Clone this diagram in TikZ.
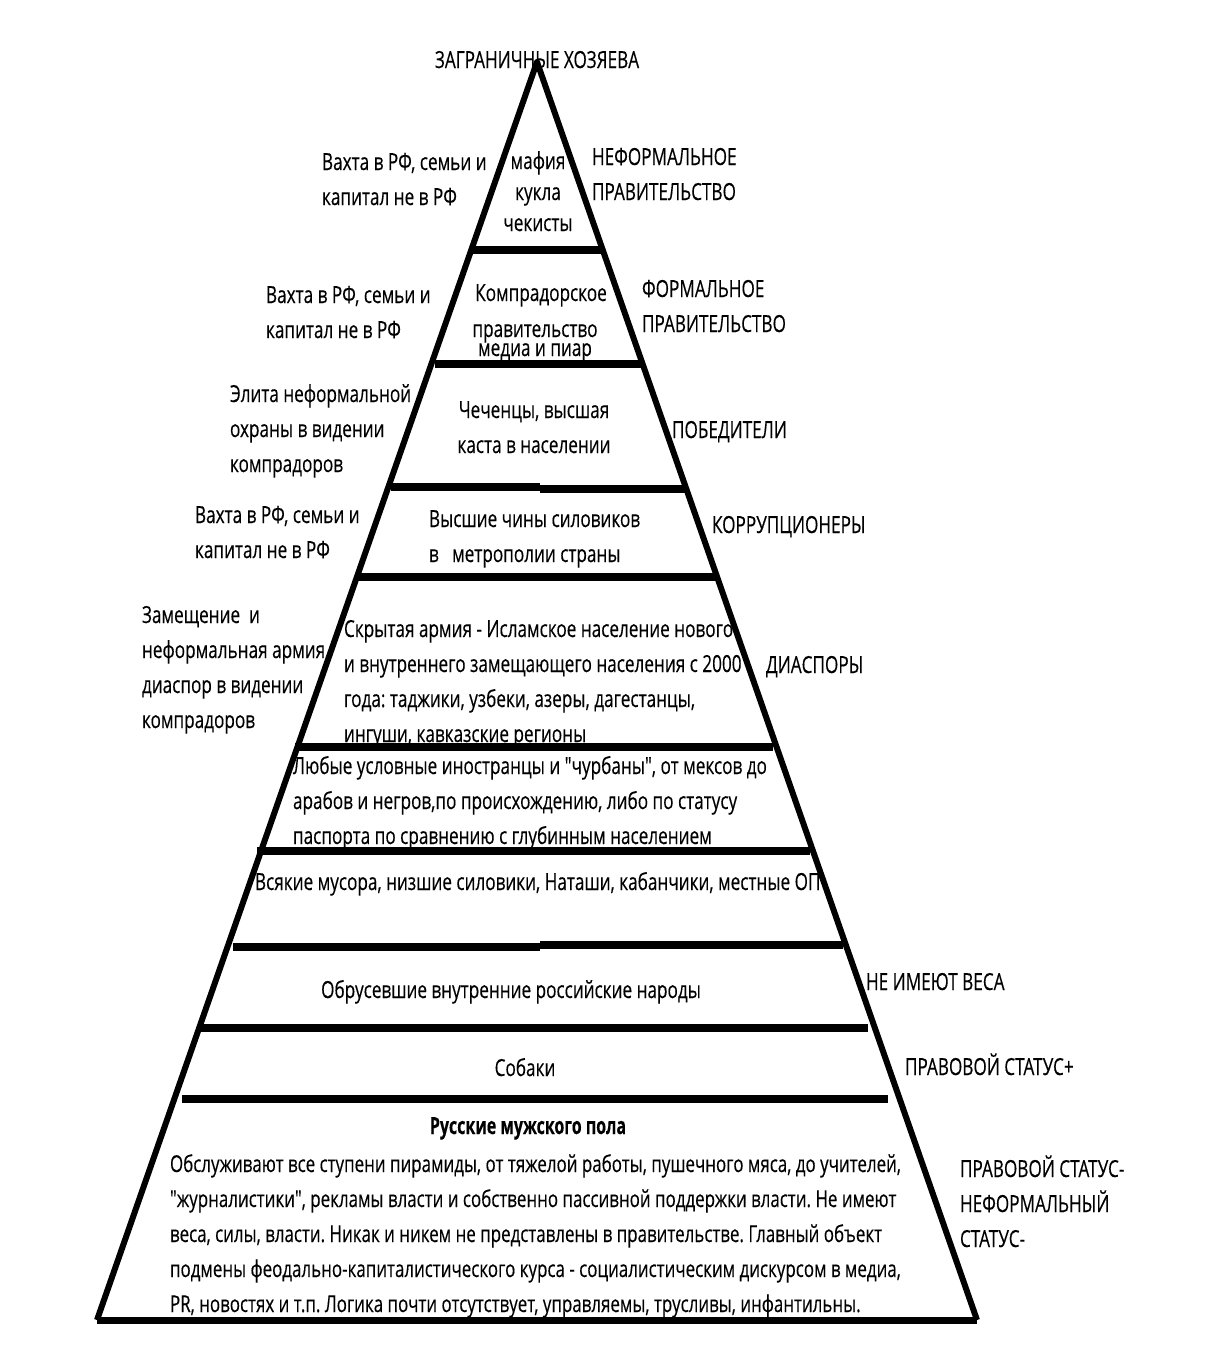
\documentclass[tikz,border=0pt]{standalone}
\usepackage{fontspec}
\setmainfont{Open Sans}[FakeStretch=0.73, FakeBold=0.3, Ligatures=TeXOff, BoldFeatures={FakeStretch=0.68}]
\frenchspacing
\newcommand\lft[1]{\vtop{\baselineskip=35pt\halign{##\hfil\cr#1\crcr}}}
\newcommand\ctr[1]{\vtop{\baselineskip=35pt\halign{\hfil##\hfil\cr#1\crcr}}}
\tikzset{
  lbl/.style={inner sep=0pt, outer sep=0pt, anchor=base west, font=\fontsize{23.5}{35}\selectfont},
  clbl/.style={lbl, anchor=base},
  sideline/.style={line width=6pt, line join=round},
  layer/.style={line width=8pt},
}
\begin{document}
\begin{tikzpicture}[x=1pt,y=-1pt]
\useasboundingbox (0,0) rectangle (1227,1346);
\coordinate (apex) at (537,62);
\coordinate (bl) at (97,1320);
\coordinate (br) at (977,1320);

% texts
\node[clbl] (top) at (537,68) {ЗАГРАНИЧНЫЕ ХОЗЯЕВА};
\node[lbl] (vahta1) at (322,170) {\lft{Вахта в РФ, семьи и\cr капитал не в РФ}};
\node[clbl] (mafia) at (538,169) {\vtop{\baselineskip=31pt\halign{\hfil#\hfil\cr мафия\cr кукла\cr чекисты\crcr}}};
\node[lbl] (neform) at (592,165) {\lft{НЕФОРМАЛЬНОЕ\cr ПРАВИТЕЛЬСТВО}};
\node[lbl] (vahta2) at (266,303) {\lft{Вахта в РФ, семьи и\cr капитал не в РФ}};
\node[clbl] (kompr1) at (541,301) {Компрадорское};
\node[clbl] (kompr2) at (535,337) {правительство};
\node[clbl] (kompr3) at (535,356) {медиа и пиар};
\node[lbl] (formal) at (642,297) {\lft{ФОРМАЛЬНОЕ\cr ПРАВИТЕЛЬСТВО}};
\node[lbl] (elite) at (230,402) {\lft{Элита неформальной\cr охраны в видении\cr компрадоров}};
\node[clbl] (chech) at (534,418) {\ctr{Чеченцы, высшая\cr каста в населении}};
\node[lbl] (pobed) at (672,438) {ПОБЕДИТЕЛИ};
\node[lbl] (vahta3) at (195,523) {\lft{Вахта в РФ, семьи и\cr капитал не в РФ}};
\node[lbl] (sil) at (429,527) {\lft{Высшие чины силовиков\cr в\ \ \ метрополии страны}};
\node[lbl] (korr) at (712,533) {КОРРУПЦИОНЕРЫ};
\node[lbl] (zam) at (142,623) {\lft{Замещение\ \ и\cr неформальная армия\cr диаспор в видении\cr компрадоров}};
\node[lbl] (skryt) at (344,637) {\lft{Скрытая армия - Исламское население нового\cr и внутреннего замещающего населения с 2000\cr года: таджики, узбеки, азеры, дагестанцы,\cr ингуши, кавказские регионы}};
\node[lbl] (diasp) at (766,673) {ДИАСПОРЫ};
\node[lbl] (lyub) at (293,774) {\lft{Любые условные иностранцы и "чурбаны", от мексов до\cr арабов и негров,по происхождению, либо по статусу\cr паспорта по сравнению с глубинным населением}};
\node[lbl] (vsyak) at (255,890) {Всякие мусора, низшие силовики, Наташи, кабанчики, местные ОП};
\node[clbl] (obrus) at (511,998) {Обрусевшие внутренние российские народы};
\node[lbl] (neim) at (866,990) {НЕ ИМЕЮТ ВЕСА};
\node[clbl] (sobaki) at (525,1076) {Собаки};
\node[lbl] (pravp) at (905,1075) {ПРАВОВОЙ СТАТУС+};
\node[clbl, font=\fontsize{23.5}{35}\selectfont\bfseries] (rus) at (528,1134) {Русские мужского пола};
\node[lbl, font=\fontsize{23.2}{35}\selectfont] (para) at (170,1172) {\lft{Обслуживают все ступени пирамиды, от тяжелой работы, пушечного мяса, до учителей,\cr "журналистики", рекламы власти и собственно пассивной поддержки власти. Не имеют\cr веса, силы, власти. Никак и никем не представлены в правительстве. Главный объект\cr подмены феодально-капиталистического курса - социалистическим дискурсом в медиа,\cr PR, новостях и т.п. Логика почти отсутствует, управляемы, трусливы, инфантильны.}};
\node[lbl] (pravm) at (960,1177) {\lft{ПРАВОВОЙ СТАТУС-\cr НЕФОРМАЛЬНЫЙ\cr СТАТУС-}};

% pyramid
\draw[sideline] (bl) -- (apex) -- (br);
\draw[line width=7pt] (bl) -- (br);
\draw[layer] (473,250) -- (601,250);
\draw[layer] (435,364) -- (643,364);
\draw[layer] (391,487) -- (540,487);
\draw[layer] (540,489) -- (688,489);
\draw[layer] (358,577) -- (716,577);
\draw[layer] (295,747) -- (773,747);
\draw[layer] (257,851) -- (810,851);
\draw[layer] (233,947) -- (540,947);
\draw[layer] (540,945) -- (843,945);
\draw[layer] (200,1028) -- (868,1028);
\draw[layer] (182,1099) -- (888,1099);
\end{tikzpicture}
\end{document}
